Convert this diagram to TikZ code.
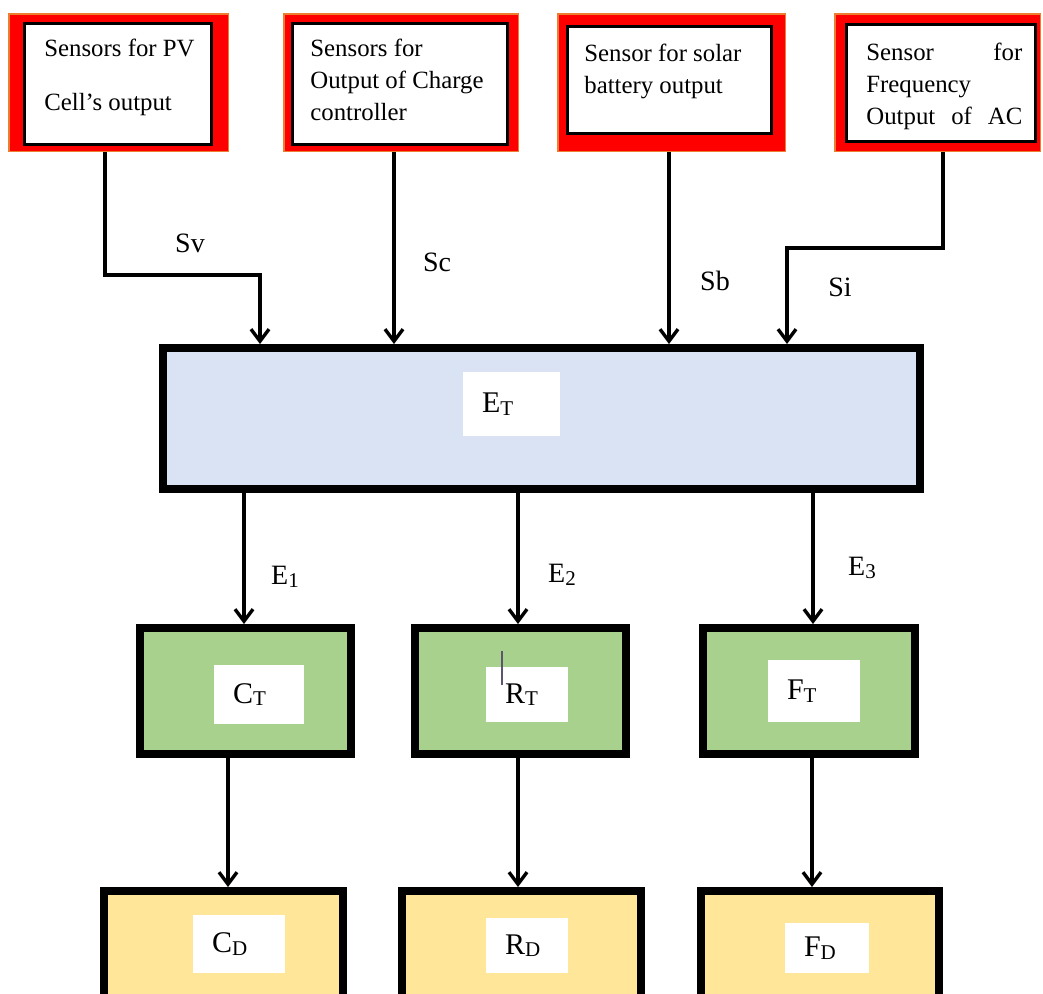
\documentclass[tikz,border=0pt]{standalone}
\usepackage{fontspec}
\setmainfont{Liberation Serif}
\usetikzlibrary{positioning,arrows.meta,calc}
\definecolor{sensred}{HTML}{FF0000}
\definecolor{sensorange}{HTML}{ED7D31}
\definecolor{etblue}{HTML}{DAE3F3}
\definecolor{tgreen}{HTML}{A9D18E}
\definecolor{dyellow}{HTML}{FFE699}
\definecolor{cursorgray}{HTML}{5E5470}
\tikzstyle{sensorouter}=[shape=rectangle,fill=sensred,draw=sensorange,line width=0.75pt,outer sep=auto]
\tikzstyle{sensorinner}=[shape=rectangle,fill=white,draw=black,line width=1.5pt]
\tikzstyle{sensortext}=[anchor=north west,inner sep=0pt,align=left,font=\fontsize{12.4}{16}\selectfont]
\tikzstyle{blockstyle}=[shape=rectangle,draw=black,line width=3.8pt,outer sep=auto]
\tikzstyle{labelstyle}=[shape=rectangle,fill=white,inner xsep=9.5pt,inner ysep=0pt,align=left,font=\fontsize{15}{17}\selectfont]
\tikzstyle{sigstyle}=[font=\fontsize{14}{16}\selectfont]
\tikzstyle{sigarrow}=[-{Straight Barb[length=6pt,width=9pt]},line width=1.7pt]
\newcommand{\lowsub}[1]{\raisebox{-1.2pt}{\fontsize{10.5}{10.5}\selectfont #1}}
\newcommand{\sensbox}[5]{ \draw (#2,#3) node [style=sensorouter,minimum width=#4pt,minimum height=#5pt] (#1) {}; }
\newcommand{\sensinner}[5]{ \draw (#2,#3) node [style=sensorinner,minimum width=#4pt,minimum height=#5pt] (#1) {}; }
\newcommand{\blockbox}[6]{ \draw (#2,#3) node [style=blockstyle,fill=#6,minimum width=#4pt,minimum height=#5pt] (#1) {}; }
\newcommand{\lblbox}[6]{ \draw (#2,#3) node [style=labelstyle,text width=#4pt,minimum height=#5pt] (#1) {#6}; }

\begin{document}
\begin{tikzpicture}[x=0.5pt,y=-0.5pt]
\useasboundingbox (0,0) rectangle (1043,993);
\clip (0,0) rectangle (1043,993);
% sensors
\sensbox{s1}{118.5}{82.5}{109.75}{68.75} %
\sensinner{i1}{118}{84}{93.5}{60.5} %
\sensbox{s2}{401}{82.5}{117.25}{68.75} %
\sensinner{i2}{400}{84}{107.5}{60.5} %
\sensbox{s3}{671.5}{82.5}{113.75}{68.75} %
\sensinner{i3}{669.5}{80}{102}{53.5} %
\sensbox{s4}{937.5}{82.5}{102.75}{68.75} %
\sensinner{i4}{941}{83}{94.5}{58.5} %
\node[sensortext] (t1) at (44,39) {Sensors for PV\\[11pt]Cell’s output};
\node[sensortext] (t2) at (310,39) {Sensors for\\Output of Charge\\controller};
\node[sensortext] (t3) at (584,44) {Sensor for solar\\battery output};
\node[sensortext,text width=78pt] (t4) at (866,43) {Sensor\hfill for\\Frequency\\Output\hfill of\hfill AC};
% blocks
\blockbox{et}{541.5}{418.5}{378.7}{70.7}{etblue} %
\blockbox{ct}{245.5}{691}{105.7}{63.2}{tgreen} %
\blockbox{rt}{520.5}{691}{105.7}{63.2}{tgreen} %
\blockbox{ft}{809}{691}{106.2}{63.2}{tgreen} %
\blockbox{cd}{223.5}{954}{119.7}{63.2}{dyellow} %
\blockbox{rd}{521.5}{954}{119.7}{63.2}{dyellow} %
\blockbox{fd}{820}{954}{119.2}{63.2}{dyellow} %
\lblbox{etlab}{511.5}{404}{29.5}{32}{E\lowsub{T}} %
\lblbox{ctlab}{259}{694.5}{26}{29.5}{C\lowsub{T}} %
\lblbox{rtlab}{527}{694.5}{22}{27.5}{R\lowsub{T}} %
\lblbox{ftlab}{814}{691}{27}{31}{F\lowsub{T}} %
\lblbox{cdlab}{239}{944}{27}{29}{C\lowsub{D}} %
\lblbox{rdlab}{527}{945.5}{22}{27.5}{R\lowsub{D}} %
\lblbox{fdlab}{827}{948}{23}{25}{F\lowsub{D}} %
\draw[cursorgray,line width=0.6pt] (502,651) -- (502,685);
% signals
\draw[sigarrow] ($(s1.south)+(-13.5,0)$) -- ++(0,123) -| ($(et.north)+(-281.5,0)$);
\draw[sigarrow] ($(s2.south)+(-7,0)$) coordinate (c2) -- (c2 |- et.north);
\draw[sigarrow] ($(s3.south)+(-2.5,0)$) coordinate (c3) -- (c3 |- et.north);
\draw[sigarrow] ($(s4.south)+(5.5,0)$) -- ++(0,96) -| ($(et.north)+(245.5,0)$);
\node[sigstyle] (lsv) at (190,243) {Sv};
\node[sigstyle] (lsc) at (437,262) {Sc};
\node[sigstyle] (lsb) at (715,281) {Sb};
\node[sigstyle] (lsi) at (840,287) {Si};
\draw[sigarrow] ($(ct.north)+(-1.5,0)$) coordinate (e1) (et.south -| e1) -- (e1);
\draw[sigarrow] ($(rt.north)+(-2.5,0)$) coordinate (e2) (et.south -| e2) -- (e2);
\draw[sigarrow] ($(ft.north)+(4,0)$) coordinate (e3) (et.south -| e3) -- (e3);
\node[sigstyle] (le1) at (285,577) {E\lowsub{1}};
\node[sigstyle] (le2) at (562,575) {E\lowsub{2}};
\node[sigstyle] (le3) at (862,568) {E\lowsub{3}};
\draw[sigarrow] ($(ct.south)+(-17.5,0)$) coordinate (d1) -- (d1 |- cd.north);
\draw[sigarrow] ($(rt.south)+(-2.5,0)$) coordinate (d2) -- (d2 |- rd.north);
\draw[sigarrow] ($(ft.south)+(3,0)$) coordinate (d3) -- (d3 |- fd.north);
\end{tikzpicture}
\end{document}
